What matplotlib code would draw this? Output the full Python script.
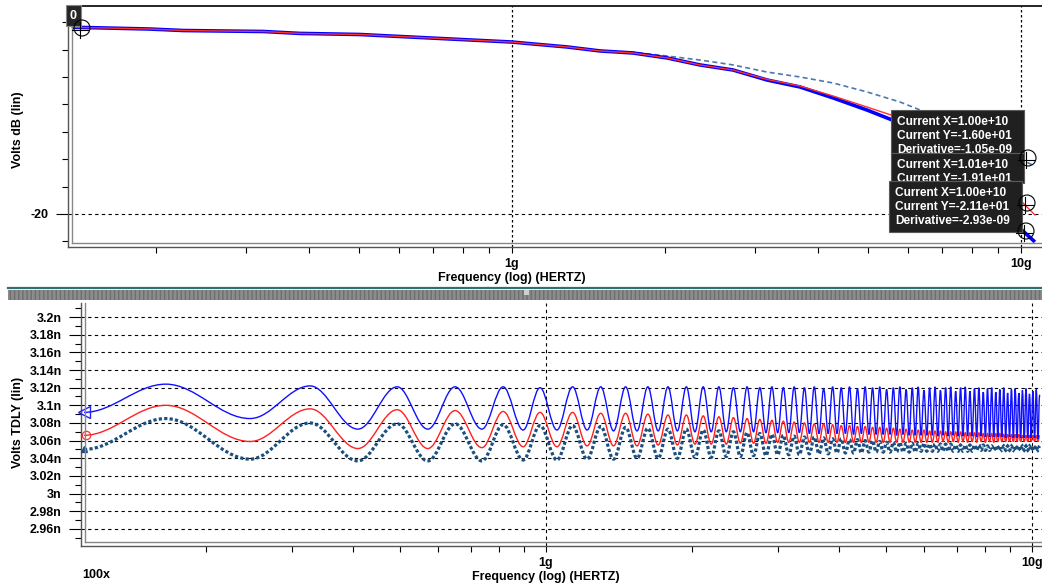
import numpy as np
import matplotlib as mpl
mpl.use("Agg")
import matplotlib.pyplot as plt
import matplotlib.ticker as plticker
from matplotlib.path import Path
from matplotlib.patches import PathPatch, Rectangle, Circle
from matplotlib.lines import Line2D

mpl.rcParams['font.family'] = ['Liberation Sans', 'DejaVu Sans']
mpl.rcParams['font.weight'] = 'bold'
mpl.rcParams['font.size'] = 9

W, H = 1042, 587

# ---- top panel : Volts dB, frequency in MHz ----
f_db = [136.7, 194, 226, 324, 383, 502, 1000, 1100, 1283, 1489, 1729, 2016,
        2339, 2717, 3170, 3680, 4275, 4980, 5780, 7250, 9090, 10040, 10650]
db_blue = [-6.37, -6.50, -6.61, -6.68, -6.82, -6.90, -7.45, -7.59, -7.81, -8.10, -8.25, -8.61,
           -9.12, -9.49, -10.22, -10.73, -11.53, -12.41, -13.36, -15.69, -18.98, -21.17, -22.04]
db_red = [-6.37, -6.50, -6.61, -6.68, -6.82, -6.90, -7.45, -7.59, -7.81, -8.10, -8.25, -8.61,
          -9.12, -9.49, -10.18, -10.66, -11.39, -12.19, -12.99, -14.96, -17.52, -19.12, -20.07]
db_dash = [-6.37, -6.50, -6.61, -6.68, -6.82, -6.90, -7.45, -7.59, -7.81, -8.10, -8.18, -8.47,
           -8.76, -9.12, -9.64, -10.00, -10.44, -11.09, -11.82, -13.28, -15.04, -16.06, -16.50]

# ---- bottom panel : Volts TDLY (ns), peaks / troughs, frequency in MHz ----
f_tdly = [112, 165, 246, 327, 410, 494, 571, 650, 738, 816,
          897, 972, 1053, 1134, 1215, 1296, 1377, 1458, 1539, 1620,
          1701, 1782, 1863, 1944, 2025, 2106, 2187, 2268, 2349, 2430,
          2511, 2592, 2673, 2754, 2835, 2916, 2997, 3078, 3159, 3240,
          3321, 3402, 3483, 3564, 3645, 3726, 3807, 3888, 3969, 4050,
          4131, 4212, 4293, 4374, 4455, 4536, 4617, 4698, 4779, 4860,
          4941, 5022, 5103, 5184, 5265, 5346, 5427, 5508, 5589, 5670,
          5751, 5832, 5913, 5994, 6075, 6156, 6237, 6318, 6399, 6480,
          6561, 6642, 6723, 6804, 6885, 6966, 7047, 7128, 7209, 7290,
          7371, 7452, 7533, 7614, 7695, 7776, 7857, 7938, 8019, 8100,
          8181, 8262, 8343, 8424, 8505, 8586, 8667, 8748, 8829, 8910,
          8991, 9072, 9153, 9234, 9315, 9396, 9477, 9558, 9639, 9720,
          9801, 9882, 9963, 10044, 10125, 10206, 10287, 10368]
tdly_blue = [3.092, 3.124, 3.085, 3.122, 3.073, 3.121, 3.073, 3.121, 3.073, 3.121,
             3.072, 3.120, 3.072, 3.121, 3.072, 3.121, 3.071, 3.121, 3.071, 3.121,
             3.071, 3.121, 3.071, 3.121, 3.070, 3.121, 3.070, 3.121, 3.070, 3.120,
             3.070, 3.121, 3.070, 3.120, 3.069, 3.121, 3.069, 3.120, 3.069, 3.121,
             3.069, 3.120, 3.068, 3.121, 3.068, 3.119, 3.068, 3.121, 3.068, 3.120,
             3.068, 3.121, 3.067, 3.119, 3.068, 3.121, 3.067, 3.120, 3.067, 3.121,
             3.067, 3.118, 3.067, 3.120, 3.066, 3.121, 3.067, 3.118, 3.066, 3.120,
             3.066, 3.121, 3.066, 3.117, 3.066, 3.120, 3.066, 3.121, 3.065, 3.117,
             3.066, 3.120, 3.065, 3.121, 3.066, 3.116, 3.065, 3.120, 3.065, 3.121,
             3.065, 3.116, 3.065, 3.119, 3.064, 3.120, 3.065, 3.115, 3.064, 3.119,
             3.064, 3.120, 3.064, 3.115, 3.064, 3.118, 3.064, 3.120, 3.063, 3.114,
             3.064, 3.118, 3.063, 3.119, 3.063, 3.114, 3.063, 3.117, 3.063, 3.119,
             3.063, 3.113, 3.063, 3.116, 3.063, 3.118, 3.062, 3.112]
tdly_red = [3.066, 3.100, 3.059, 3.096, 3.051, 3.095, 3.051, 3.094, 3.052, 3.093,
            3.053, 3.092, 3.053, 3.092, 3.054, 3.091, 3.054, 3.091, 3.054, 3.090,
            3.055, 3.089, 3.055, 3.089, 3.056, 3.088, 3.056, 3.087, 3.056, 3.086,
            3.057, 3.085, 3.057, 3.084, 3.057, 3.083, 3.058, 3.082, 3.058, 3.081,
            3.058, 3.080, 3.058, 3.079, 3.058, 3.079, 3.058, 3.078, 3.058, 3.077,
            3.058, 3.077, 3.058, 3.076, 3.058, 3.076, 3.058, 3.075, 3.058, 3.075,
            3.058, 3.074, 3.058, 3.074, 3.058, 3.073, 3.058, 3.073, 3.058, 3.072,
            3.058, 3.072, 3.058, 3.072, 3.058, 3.071, 3.058, 3.071, 3.058, 3.071,
            3.059, 3.070, 3.058, 3.070, 3.059, 3.070, 3.058, 3.070, 3.059, 3.069,
            3.058, 3.069, 3.059, 3.069, 3.058, 3.069, 3.059, 3.068, 3.058, 3.068,
            3.059, 3.068, 3.058, 3.068, 3.059, 3.068, 3.059, 3.067, 3.059, 3.067,
            3.059, 3.067, 3.059, 3.067, 3.059, 3.067, 3.059, 3.066, 3.059, 3.066,
            3.059, 3.066, 3.059, 3.066, 3.059, 3.066, 3.059, 3.066]
tdly_dark = [3.050, 3.085, 3.039, 3.080, 3.037, 3.079, 3.037, 3.079, 3.037, 3.078,
             3.038, 3.077, 3.038, 3.077, 3.039, 3.076, 3.039, 3.075, 3.040, 3.074,
             3.040, 3.073, 3.040, 3.073, 3.041, 3.072, 3.041, 3.071, 3.042, 3.070,
             3.042, 3.069, 3.043, 3.068, 3.043, 3.067, 3.044, 3.066, 3.044, 3.065,
             3.044, 3.064, 3.045, 3.064, 3.045, 3.063, 3.045, 3.062, 3.046, 3.062,
             3.046, 3.061, 3.046, 3.061, 3.046, 3.060, 3.047, 3.060, 3.047, 3.059,
             3.047, 3.058, 3.047, 3.058, 3.047, 3.058, 3.047, 3.057, 3.047, 3.057,
             3.047, 3.057, 3.048, 3.057, 3.048, 3.056, 3.048, 3.056, 3.048, 3.056,
             3.048, 3.056, 3.048, 3.056, 3.048, 3.055, 3.048, 3.055, 3.048, 3.055,
             3.048, 3.055, 3.048, 3.055, 3.049, 3.055, 3.049, 3.055, 3.049, 3.054,
             3.049, 3.054, 3.049, 3.054, 3.049, 3.054, 3.049, 3.054, 3.049, 3.054,
             3.049, 3.054, 3.049, 3.054, 3.049, 3.054, 3.049, 3.054, 3.049, 3.054,
             3.049, 3.054, 3.049, 3.054, 3.049, 3.054, 3.049, 3.054]

markers = [("Current X=1.00e+10", "Current Y=-1.60e+01", "Derivative=-1.05e-09"),
           ("Current X=1.01e+10", "Current Y=-1.91e+01"),
           ("Current X=1.00e+10", "Current Y=-2.11e+01", "Derivative=-2.93e-09")]


fig = plt.figure(figsize=(W / 100, H / 100), dpi=100)
px = mpl.transforms.Affine2D().scale(1.0 / W, -1.0 / H).translate(0, 1) + fig.transFigure


def axes_px(l, t, r, b):
    return fig.add_axes([l / W, 1 - b / H, (r - l) / W, (b - t) / H])


def line_px(xs, ys, **kw):
    fig.add_artist(Line2D(xs, ys, transform=px, **kw))


def smooth(ax, f, v, k=0.36, **kw):
    # bezier through the read peaks / troughs, flat at every extreme
    verts = [(f[0], v[0])]
    codes = [Path.MOVETO]
    for i in range(len(f) - 1):
        f0, f1 = f[i], f[i + 1]
        verts += [(f0 * (f1 / f0) ** k, v[i]), (f1 * (f0 / f1) ** k, v[i + 1]), (f1, v[i + 1])]
        codes += [Path.CURVE4] * 3
    ax.add_patch(PathPatch(Path(verts, codes), fill=False, **kw))


def freq_fmt(x, pos):
    return {1e9: '1g', 1e10: '10g'}.get(round(x, -6), '')


def style_axes(ax):
    ax.set_xscale('log')
    ax.spines['right'].set_visible(False)
    for s in ('left', 'bottom'):
        ax.spines[s].set_color('#555555')
        ax.spines[s].set_linewidth(1.0)
    ax.xaxis.set_major_locator(plticker.LogLocator(base=10))
    ax.xaxis.set_minor_locator(plticker.LogLocator(base=10, subs=range(2, 10)))
    ax.xaxis.set_major_formatter(plticker.FuncFormatter(freq_fmt))
    ax.xaxis.set_minor_formatter(plticker.NullFormatter())
    ax.tick_params(axis='x', which='both', direction='out', length=4, width=0.8, pad=4, labelsize=9)
    ax.tick_params(axis='y', which='major', direction='out', length=9, width=0.8, pad=5, labelsize=9)
    ax.tick_params(axis='y', which='minor', direction='out', length=4, width=0.8)


# ---- top panel ----
ax1 = axes_px(68, 6, 1042, 247)
style_axes(ax1)
ax1.spines['top'].set_color('black')
ax1.spines['top'].set_linewidth(1.2)
ax1.set_xlim(134.2e6, 1.0997e10)
ax1.set_ylim(-22.41, -4.82)
ax1.yaxis.set_major_locator(plticker.MultipleLocator(20))
ax1.yaxis.set_minor_locator(plticker.MultipleLocator(2))
ax1.yaxis.set_major_formatter(plticker.FuncFormatter(lambda v, p: f"{v:g}"))
ax1.grid(which='major', axis='y', ls=(0, (3, 3)), color='black', lw=0.8)
ax1.grid(which='major', axis='x', ls=(0, (2, 2)), color='black', lw=0.9)

fdb = np.array(f_db) * 1e6
ax1.plot(fdb, db_blue, color='#0000ff', lw=2.6, solid_capstyle='butt', zorder=3)
ax1.plot(fdb, db_red, color='#ff3030', lw=1.0, zorder=4)
ax1.plot(fdb, db_dash, color='#4b78ae', lw=1.2, ls=(0, (3, 2)), zorder=2)

# ---- bottom panel ----
ax2 = axes_px(81, 303, 1042, 546)
style_axes(ax2)
ax2.spines['top'].set_visible(False)
ax2.set_xlim(110.4e6, 1.0486e10)
ax2.set_ylim(2.9405, 3.216)
ax2.yaxis.set_major_locator(plticker.MultipleLocator(0.02))
ax2.yaxis.set_minor_locator(plticker.MultipleLocator(0.01))
ax2.yaxis.set_major_formatter(plticker.FuncFormatter(lambda v, p: f"{round(v, 3):g}n"))
ax2.grid(which='major', axis='both', ls=(0, (3, 3)), color='black', lw=0.8)

ft = np.array(f_tdly) * 1e6
smooth(ax2, ft, tdly_dark, edgecolor='#1b4f80', lw=2.3, ls=(0, (1.0, 0.7)), zorder=2)
smooth(ax2, ft, tdly_red, edgecolor='#ff2020', lw=1.0, zorder=3)
smooth(ax2, ft, tdly_blue, edgecolor='#1010ff', lw=1.0, zorder=4)
ax2.plot([ft[0]], [tdly_blue[0]], marker='<', ms=9, mfc='none', mec='#2020ff', mew=1.0, clip_on=False, zorder=5)
ax2.plot([ft[0] * 1.01], [tdly_red[0]], marker='o', ms=6, mfc='none', mec='#ff3030', mew=0.9, clip_on=False, zorder=5)
ax2.plot([ft[0]], [tdly_dark[0]], marker='^', ms=4, color='#1b4f80', clip_on=False, zorder=5)

# double frame lines
line_px([72, 72], [8, 243], color='#888888', lw=1.0)
line_px([72, 1042], [243, 243], color='#888888', lw=1.0)
line_px([85, 85], [303, 542], color='#888888', lw=1.0)
line_px([85, 1042], [542, 542], color='#888888', lw=1.0)

# labels
fig.text(18 / W, 1 - 130 / H, "Volts dB (lin)", rotation=90, ha='center', va='center')
fig.text(18 / W, 1 - 422 / H, "Volts TDLY (lin)", rotation=90, ha='center', va='center')
fig.text(512 / W, 1 - 278 / H, "Frequency (log) (HERTZ)", ha='center', va='center')
fig.text(546 / W, 1 - 577 / H, "Frequency (log) (HERTZ)", ha='center', va='center')
fig.text(96 / W, 1 - 575 / H, "100x", ha='center', va='center')

# separator bar between the panels
line_px([8, 1042], [287.5, 287.5], color='#2f6f6f', lw=1.6)
fig.add_artist(Rectangle((8, 289.5), 1034, 10, transform=px, facecolor='#8c8c8c',
                         edgecolor='#6e6e6e', hatch='||||', lw=0))
fig.add_artist(Rectangle((524, 290), 5, 5, transform=px, facecolor='#cfcfcf', edgecolor='none'))


def cursor(x, y, r=8, color='black'):
    fig.add_artist(Circle((x, y), r, transform=px, fill=False, ec=color, lw=0.8, zorder=20))
    line_px([x - r - 2, x + r - 2], [y + 2, y + 2], color=color, lw=0.8, zorder=20)
    line_px([x - 2, x - 2], [y - r + 2, y + r + 2], color=color, lw=0.8, zorder=20)


# start marker "0"
fig.add_artist(Rectangle((66, 5), 15, 21, transform=px, facecolor='#262626', edgecolor='#888888', lw=0.8, zorder=18))
fig.text(73.5 / W, 1 - 16 / H, "0", color='white', ha='center', va='center', fontsize=9, zorder=19)
cursor(82, 28)

# cursor readout boxes, each one partly hidden by the next
boxes = [(891, 110, 133, 44), (891, 153, 133, 30), (889, 181, 133, 51)]
for i, ((bx, by, bw, bh), lines) in enumerate(zip(boxes, markers)):
    fig.add_artist(Rectangle((bx, by), bw, bh, transform=px, facecolor='#202020',
                             edgecolor='#5a5a5a', lw=0.8, zorder=10 + 2 * i))
    for j, s in enumerate(lines):
        fig.text((bx + 6) / W, 1 - (by + 12 + 14 * j) / H, s, color='white', ha='left', va='center',
                 fontsize=8.6, zorder=11 + 2 * i)
cursor(1028, 158)
cursor(1027, 203)
cursor(1026, 231)

fig.savefig('out.png', dpi=100)
